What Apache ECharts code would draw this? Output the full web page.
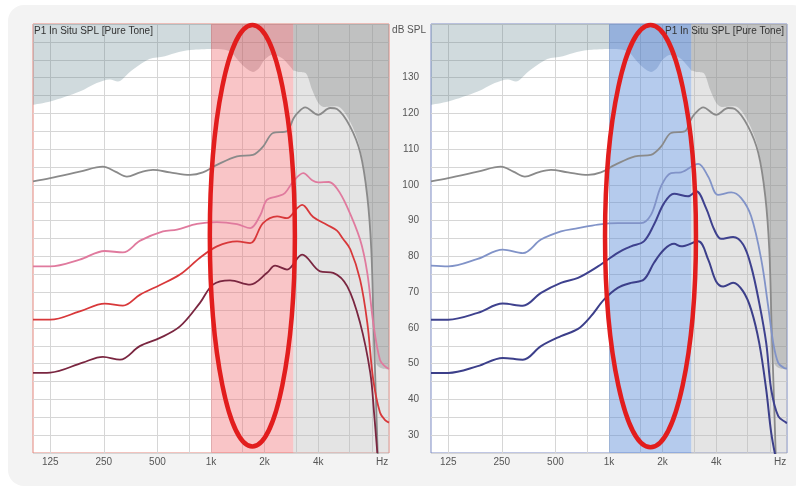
<!DOCTYPE html>
<html><head><meta charset="utf-8">
<script src="https://cdn.jsdelivr.net/npm/echarts@6/dist/echarts.min.js"></script>
<style>
html,body{margin:0;padding:0;background:#ffffff;}
#card{position:absolute;left:8px;top:5px;width:800px;height:481px;border-radius:16px;background:#f3f3f3;}
#c{position:absolute;left:0;top:0;width:796px;height:491px;}
</style>
</head><body><div id="card"></div><div id="c"></div>
<script>
// ---------- axis / tick data ----------
const FREQ_MIN = 100, FREQ_MAX = 10000;
const DB_MIN = 25, DB_MAX = 145;
const FREQ_GRID = [125,250,500,750,1000,1500,2000,3000,4000,6000,8000];
const FREQ_LABELS = [125,250,500,1000,2000,4000,9150];
const FREQ_LABEL_TEXT = ['125','250','500','1k','2k','4k','Hz'];
const DB_LABELS = [30,40,50,60,70,80,90,100,110,120,130];
const BAND_FREQ = [1000, 2900];      // highlighted band
const GRAY_FREQ = [2900, 10000];     // greyed high range
const TITLE = 'P1 In Situ SPL [Pure Tone]';
const Y_NAME = 'dB SPL';

// ---------- curves (Hz, dB SPL) ----------
const hillF  = [100,125,183,228,270,300,350,450,550,660,800,1000,1200,1300,1500,1720,1850,2000,2200,2500,2800,2900,3100,3400,3700,4000,4300,5100,6000,6900,7500,7900,8200,8500,9000,10000];
const hillDb = [122.4,123.3,126.1,128.5,129.5,128.9,131.6,135.2,136,137.2,137.8,138,137.8,137,133.5,131.6,132.5,135,136.3,135.5,133,132,131.6,131.3,126.6,123,121.8,122,118,110,98,84,62,50,48.8,48.4];

const grayF  = [100,125,183,247,290,337,400,472,588,762,900,1080,1400,1720,1960,2230,2670,2900,3050,3380,4000,4670,5100,6050,6900,7550,7950,8200,8450,8700];
const grayDb = [101,101.9,103.7,105.1,103.7,102.3,103.5,104.2,103.5,102.8,103.5,105.6,108,108.4,110.7,114.5,115,118.5,120,121.7,119.6,121.5,121.2,116.3,108.9,96.8,82,60,40,20];

// left chart
const pinkF  = [100,125,183,253,320,400,537,644,834,1080,1400,1660,1890,2060,2350,2600,2900,3300,3700,4000,4600,5100,5800,6880,7550,8150,8900,9500,10000];
const pinkDb = [77.2,77.2,79.1,81.5,81.1,84.4,87,87.5,89.1,89.6,89,87.9,91.5,95.8,96.8,97.7,101,103.3,101.3,100.7,100.8,99,94,84.7,75.4,61.5,51,49.2,48.5];

const redF   = [100,125,183,253,320,400,517,669,867,1080,1400,1660,1960,2350,2670,3050,3250,3750,4500,5100,5500,6060,6880,7550,8150,8900,9500,10000];
const redDb  = [62.3,62.3,64.6,66.8,66.2,69.3,72,74.9,79.6,82.8,84.2,83.7,89.3,91.2,90.7,93.5,94.4,91,88.8,87.2,85,82,73.5,61.5,45.6,36.3,34.2,33.5];

const maroonF  = [100,125,190,247,308,398,517,669,867,1026,1279,1658,2066,2290,2675,3250,4100,4860,5830,6880,7850,8250,8600];
const maroonDb = [47.4,47.5,50.3,51.9,51.1,54.9,57.2,60.4,67,72.1,73.3,72.1,75.4,77.4,76.3,80.5,75.8,75.4,71.6,61.4,47.4,36,25];

// right chart
const lblueF  = [100,125,183,253,328,415,537,670,867,1120,1510,1720,1960,2230,2540,3170,3610,4100,4860,5530,6290,7170,7840,8370,8930,9630,10000];
const lblueDb = [77.4,77.2,79.3,81.9,80.9,84.7,87,87.9,88.9,89.3,89.3,91.6,99.6,103.3,103.5,105.9,102.3,97.2,97.9,96.3,91.2,79.1,66,55.8,50.2,48.8,48.6];

const navyF  = [100,125,183,253,328,415,537,670,867,1120,1330,1570,1790,2040,2320,2780,3090,3510,3900,4270,4980,5670,6290,6980,7640,8150,8930,9890,10000];
const navyDb = [62.3,62.3,64.2,66.8,66.2,69.8,72.6,74,77.2,81,82.8,84.2,88.9,94.9,97.5,96.8,98.2,93.5,87.5,84.9,85.4,83.3,77.2,67,55.8,42.8,35.3,33.5,33.4];

const dnavyF  = [100,125,183,253,328,415,537,670,790,937,1120,1330,1570,1790,2040,2320,2540,3170,3610,4000,4380,4980,5670,6290,6980,7640,8150,8700];
const dnavyDb = [47.4,47.4,49.3,51.6,51.1,54.9,57.7,59.7,63.2,67.9,71.2,72.6,73.5,78.2,81.9,83.5,82.8,84.2,79.1,73,71.6,72.6,70.2,65.1,55.8,42.8,30.7,23];

// ellipse annotation extents (Hz, dB)
const leftEllipse  = {f: [985, 2960], db: [144.7, 26.8]};
const rightEllipse = {f: [950, 3080], db: [144.7, 26.6]};

// ---------- build ----------
const zip = (a, b) => a.map((v, i) => [v, b[i]]);
const FONT = 'Liberation Sans';
const hillPts = zip(hillF, hillDb);
const hillPart = (lo, hi) => hillPts.filter(p => p[0] >= lo && p[0] <= hi);

function xAxis(gi) {
  return {
    type: 'log', logBase: 10, min: FREQ_MIN, max: FREQ_MAX, gridIndex: gi,
    axisLine: {show: false},
    axisTick: {show: false, customValues: FREQ_GRID},
    splitLine: {show: true, lineStyle: {color: '#d6d6d6', width: 1}},
    axisLabel: {
      customValues: FREQ_LABELS, margin: 4, color: '#555', fontSize: 10, fontFamily: FONT,
      formatter: v => {
        let best = 0, bd = 1e9;
        FREQ_LABELS.forEach((f, i) => { const d = Math.abs(Math.log(v) - Math.log(f)); if (d < bd) { bd = d; best = i; } });
        return FREQ_LABEL_TEXT[best];
      }
    }
  };
}
function yAxis(gi, showLabels) {
  return {
    type: 'value', min: DB_MIN, max: DB_MAX, interval: 5, gridIndex: gi,
    axisLine: {show: false}, axisTick: {show: false},
    splitLine: {show: true, lineStyle: {color: '#d6d6d6', width: 1}},
    axisLabel: {
      show: showLabels, margin: 12, color: '#555', fontSize: 10, fontFamily: FONT,
      formatter: v => DB_LABELS.indexOf(Math.round(v)) >= 0 ? String(Math.round(v)) : ''
    }
  };
}
function lineSeries(gi, f, db, color, w) {
  return {
    type: 'line', xAxisIndex: gi, yAxisIndex: gi, data: zip(f, db), z: 4,
    smooth: 0.35, showSymbol: false, silent: true,
    lineStyle: {color: color, width: w}
  };
}
function bandSeries(gi, bandColor) {
  return {
    type: 'line', xAxisIndex: gi, yAxisIndex: gi, data: [], z: 1, silent: true,
    markArea: {
      silent: true, label: {show: false},
      data: [
        [{xAxis: BAND_FREQ[0], itemStyle: {color: bandColor}}, {xAxis: BAND_FREQ[1]}],
        [{xAxis: GRAY_FREQ[0], itemStyle: {color: 'rgba(185,185,185,0.38)'}}, {xAxis: GRAY_FREQ[1]}]
      ]
    }
  };
}
function hillSeries(gi, pts, color) {
  return {
    type: 'line', xAxisIndex: gi, yAxisIndex: gi, data: pts, z: 2, silent: true,
    smooth: 0.3, showSymbol: false,
    lineStyle: {width: 0},
    areaStyle: {origin: 'end', color: color, opacity: 1}
  };
}
function hillSet(gi, bandOverlay) {
  return [
    hillSeries(gi, hillPart(FREQ_MIN, BAND_FREQ[0]), 'rgba(80,120,128,0.27)'),
    hillSeries(gi, hillPart(BAND_FREQ[0], BAND_FREQ[1]), bandOverlay),
    hillSeries(gi, hillPart(GRAY_FREQ[0], GRAY_FREQ[1]), 'rgba(110,112,114,0.30)')
  ];
}

const chart = echarts.init(document.getElementById('c'), null, {renderer: 'canvas'});
chart.setOption({
  animation: false,
  grid: [
    {left: 33, top: 24, width: 356, height: 429, show: true, backgroundColor: '#ffffff', borderColor: '#e4867c', borderWidth: 1},
    {left: 431, top: 24, width: 356, height: 429, show: true, backgroundColor: '#ffffff', borderColor: '#7f8dc6', borderWidth: 1}
  ],
  xAxis: [xAxis(0), xAxis(1)],
  yAxis: [yAxis(0, false), yAxis(1, true)],
  series: [
    bandSeries(0, 'rgba(240,110,115,0.40)'),
    ...hillSet(0, 'rgba(140,70,80,0.25)'),
    lineSeries(0, grayF, grayDb, '#8a8a8a', 1.8),
    lineSeries(0, pinkF, pinkDb, '#e07a9e', 1.8),
    lineSeries(0, redF, redDb, '#d8383a', 1.8),
    lineSeries(0, maroonF, maroonDb, '#7a2640', 1.8),
    bandSeries(1, 'rgba(90,140,215,0.45)'),
    ...hillSet(1, 'rgba(60,100,170,0.25)'),
    lineSeries(1, grayF, grayDb, '#8a8a8a', 1.8),
    lineSeries(1, lblueF, lblueDb, '#8193c8', 1.8),
    lineSeries(1, navyF, navyDb, '#3e418e', 2),
    lineSeries(1, dnavyF, dnavyDb, '#3c3f8a', 2)
  ]
});

function ellipseEl(gi, e) {
  const p1 = chart.convertToPixel({gridIndex: gi}, [e.f[0], e.db[0]]);
  const p2 = chart.convertToPixel({gridIndex: gi}, [e.f[1], e.db[1]]);
  return {
    type: 'ellipse', z: 100,
    shape: {cx: (p1[0] + p2[0]) / 2, cy: (p1[1] + p2[1]) / 2, rx: Math.abs(p2[0] - p1[0]) / 2, ry: Math.abs(p2[1] - p1[1]) / 2},
    style: {fill: null, stroke: '#e21d1d', lineWidth: 4.5}
  };
}
const tl = chart.convertToPixel({gridIndex: 0}, [FREQ_MIN, DB_MAX]);
const tr = chart.convertToPixel({gridIndex: 1}, [FREQ_MAX, DB_MAX]);
const rl = chart.convertToPixel({gridIndex: 1}, [FREQ_MIN, DB_MAX]);
chart.setOption({
  graphic: [
    ellipseEl(0, leftEllipse),
    ellipseEl(1, rightEllipse),
    {type: 'text', z: 90, x: tl[0] + 1, y: tl[1] + 2, style: {text: TITLE, fill: '#333', fontSize: 10, fontFamily: FONT, align: 'left', verticalAlign: 'top'}},
    {type: 'text', z: 90, x: tr[0] - 3, y: tr[1] + 2, style: {text: TITLE, fill: '#333', fontSize: 10, fontFamily: FONT, align: 'right', verticalAlign: 'top'}},
    {type: 'text', z: 90, x: rl[0] - 5, y: rl[1] + 6, style: {text: Y_NAME, fill: '#555', fontSize: 10, fontFamily: FONT, align: 'right', verticalAlign: 'middle'}}
  ]
});
</script></body></html>
